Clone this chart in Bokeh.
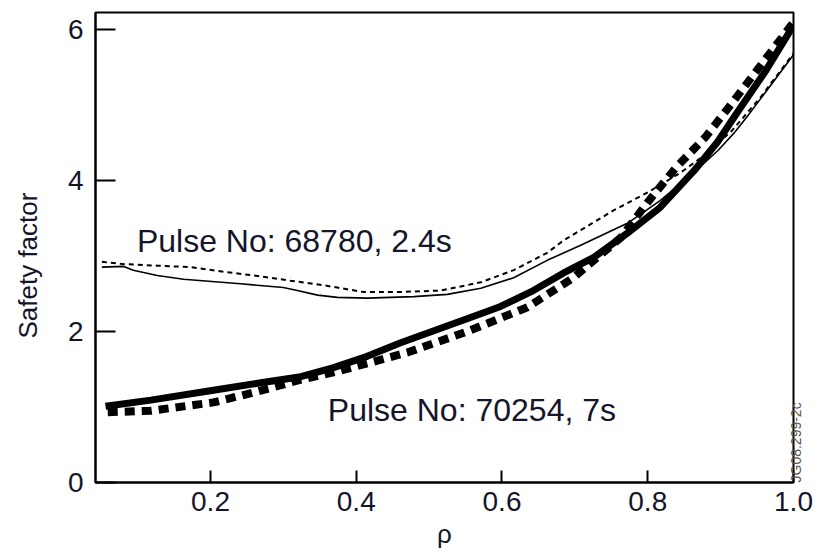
import math
from bokeh.plotting import figure
from bokeh.models import Range1d, FixedTicker, ColumnDataSource, LinearAxis
from bokeh.core.properties import value
from bokeh.embed import file_html
from bokeh.resources import INLINE

# Pulse No: 68780, 2.4s  (thin lines)
rho_68780_solid = [0.051, 0.081, 0.094, 0.127, 0.163, 0.241, 0.300, 0.319, 0.347, 0.374, 0.415,
                   0.479, 0.525, 0.571, 0.616, 0.662, 0.708, 0.772, 0.817, 0.863, 0.896, 0.918,
                   0.937, 0.955, 1.0]
q_68780_solid = [2.85, 2.86, 2.81, 2.74, 2.69, 2.63, 2.58, 2.54, 2.48, 2.45, 2.44,
                 2.46, 2.49, 2.57, 2.71, 2.94, 3.14, 3.43, 3.73, 4.10, 4.39, 4.62,
                 4.85, 5.08, 5.66]

rho_68780_dashed = [0.051, 0.081, 0.127, 0.173, 0.218, 0.259, 0.310, 0.355, 0.374, 0.410, 0.457,
                    0.516, 0.571, 0.616, 0.662, 0.684, 0.708, 0.753, 0.800, 0.845, 0.872, 0.914,
                    0.955, 1.0]
q_68780_dashed = [2.92, 2.89, 2.87, 2.85, 2.79, 2.74, 2.67, 2.61, 2.58, 2.52, 2.52,
                  2.54, 2.65, 2.81, 3.04, 3.20, 3.34, 3.60, 3.84, 4.10, 4.29, 4.64,
                  5.10, 5.68]

# Pulse No: 70254, 7s  (thick lines)
rho_70254_solid = [0.056, 0.118, 0.204, 0.269, 0.324, 0.369, 0.415, 0.461, 0.553, 0.598, 0.643,
                   0.684, 0.726, 0.772, 0.817, 0.863, 0.896, 0.923, 0.962, 1.0]
q_70254_solid = [1.01, 1.09, 1.22, 1.32, 1.40, 1.52, 1.67, 1.85, 2.17, 2.33, 2.54,
                 2.77, 2.98, 3.30, 3.64, 4.12, 4.51, 4.90, 5.45, 6.05]

rho_70254_dashed = [0.059, 0.118, 0.204, 0.259, 0.324, 0.378, 0.470, 0.553, 0.635, 0.698, 0.763,
                    0.800, 0.838, 0.879, 0.914, 0.951, 1.0]
q_70254_dashed = [0.93, 0.95, 1.06, 1.19, 1.36, 1.48, 1.72, 2.00, 2.32, 2.71, 3.24,
                  3.71, 4.16, 4.57, 5.00, 5.47, 6.09]

x_ticks = [0.2, 0.4, 0.6, 0.8, 1.0]
x_tick_labels = ["0.2", "0.4", "0.6", "0.8", "1.0"]
y_ticks = [0, 2, 4, 6]
y_tick_labels = ["0", "2", "4", "6"]

annot_text = ["Pulse No: 68780, 2.4s", "Pulse No: 70254, 7s"]
annot_x = [0.099, 0.361]
annot_y = [3.20, 0.953]

ylabel_text = "Safety factor"
stamp_text = "JG08.299-2c"

FONT = "Liberation Sans"
TXT = "#15152a"
NBSP = "\u00a0"

p = figure(width=823, height=559,
           x_range=Range1d(0.0422, 1.0), y_range=Range1d(0, 6.22),
           output_backend="svg", toolbar_location=None,
           min_border_left=95, min_border_right=30, min_border_top=12, min_border_bottom=77)

p.background_fill_color = "white"
p.border_fill_color = "white"
p.outline_line_color = "black"
p.outline_line_width = 2
p.xgrid.visible = False
p.ygrid.visible = False

for ax in (p.xaxis[0], p.yaxis[0]):
    ax.axis_line_width = 2
    ax.axis_line_color = "black"
    ax.major_tick_line_color = "black"
    ax.major_tick_line_width = 2
    ax.major_tick_out = 0
    ax.minor_tick_line_color = None
    ax.major_label_text_font = FONT
    ax.major_label_text_font_size = "28px"
    ax.major_label_text_color = TXT
    ax.axis_label_text_font = FONT
    ax.axis_label_text_font_style = "normal"
    ax.axis_label_text_color = TXT

p.xaxis.ticker = FixedTicker(ticks=x_ticks)
p.xaxis.major_label_overrides = {t: l for t, l in zip(x_ticks, x_tick_labels)}
p.xaxis.major_tick_in = 12
p.xaxis.major_label_standoff = 9
p.xaxis.axis_label = "ρ"
p.xaxis.axis_label_text_font_size = "26px"
p.xaxis.axis_label_standoff = 5

p.yaxis.ticker = FixedTicker(ticks=y_ticks)
p.yaxis.major_label_overrides = {t: l for t, l in zip(y_ticks, y_tick_labels)}
p.yaxis.major_tick_in = 20
p.yaxis.major_label_standoff = 12


def label_axis(text, size, color, standoff):
    return LinearAxis(ticker=FixedTicker(ticks=[]),
                      axis_line_color=None, major_tick_line_color=None, minor_tick_line_color=None,
                      major_label_text_font_size="0px", major_tick_in=0, major_tick_out=0,
                      major_label_standoff=0,
                      axis_label=text, axis_label_text_font=FONT, axis_label_text_font_size=size,
                      axis_label_text_font_style="normal", axis_label_text_color=color,
                      axis_label_standoff=standoff)


# y-axis title, nudged slightly below the frame centre as in the original
yl = label_axis(ylabel_text + NBSP * 5, "26px", TXT, 22)
p.add_layout(yl, "left")

# figure stamp at the lower right, reading upwards
st = label_axis(stamp_text, "14px", "#555555", 2)
st.axis_label_orientation = math.pi / 2
placed = False
try:
    st.axis_label_align = "start"
    placed = True
except Exception:
    placed = False
if not placed:
    st.axis_label = stamp_text + NBSP * 98
p.add_layout(st, "right")

p.line(rho_70254_solid, q_70254_solid, line_color="black", line_width=7, line_join="round")
p.line(rho_70254_dashed, q_70254_dashed, line_color="black", line_width=8, line_dash="10 7")
p.line(rho_68780_solid, q_68780_solid, line_color="black", line_width=1.6, line_join="round")
p.line(rho_68780_dashed, q_68780_dashed, line_color="black", line_width=2, line_dash="5 4")

src = ColumnDataSource(dict(x=annot_x, y=annot_y, t=annot_text))
p.text(x="x", y="y", text="t", source=src, text_font=value(FONT), text_font_size=value("32px"),
       text_color=TXT, text_baseline="alphabetic", text_align="left")

open("out.html", "w").write(file_html(p, INLINE))
